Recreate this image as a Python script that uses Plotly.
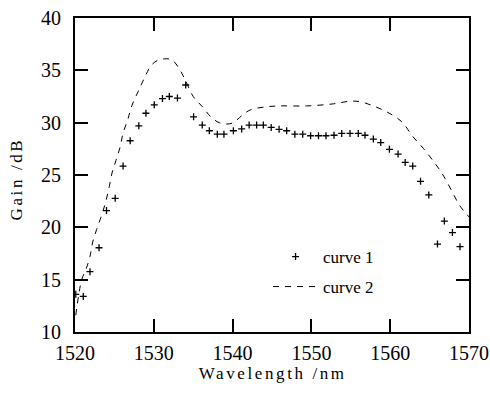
import plotly.graph_objects as go

# curve 1 (markers)
c1_x = [1520.1, 1521.05, 1521.9, 1523.05, 1524.0, 1525.1, 1526.1, 1527.0, 1528.1, 1529.0,
        1530.06, 1531.1, 1531.97, 1533.0, 1534.05, 1535.05, 1536.15, 1537.05, 1538.06, 1538.9,
        1540.1, 1541.15, 1542.1, 1543.05, 1543.9, 1544.9, 1545.9, 1546.86, 1547.9, 1548.9,
        1549.9, 1550.9, 1551.85, 1552.87, 1553.85, 1554.9, 1555.95, 1556.8, 1557.86, 1558.8,
        1559.9, 1561.0, 1561.9, 1562.86, 1563.85, 1564.9, 1566.0, 1566.87, 1567.9, 1568.86]
c1_y = [13.6, 13.4, 15.76, 18.05, 21.6, 22.77, 25.85, 28.27, 29.7, 30.9,
        31.7, 32.3, 32.5, 32.35, 33.6, 30.56, 29.77, 29.23, 28.9, 28.9,
        29.23, 29.4, 29.77, 29.77, 29.77, 29.55, 29.36, 29.23, 28.9, 28.9,
        28.75, 28.75, 28.75, 28.8, 28.97, 28.97, 28.97, 28.8, 28.43, 28.1,
        27.45, 27.0, 26.2, 25.85, 24.4, 23.1, 18.4, 20.6, 19.5, 18.15]

# curve 2 (dashed line)
c2_x = [1520.1, 1520.85, 1521.4, 1521.9, 1522.25, 1522.75, 1523.4, 1523.9, 1524.35, 1524.7,
        1525.2, 1525.7, 1526.1, 1526.7, 1527.2, 1528.0, 1528.7, 1529.7, 1530.5, 1531.4,
        1532.3, 1533.1, 1534.0, 1535.0, 1536.2, 1537.3, 1538.3, 1539.25, 1540.1, 1540.9,
        1542.2, 1544.1, 1546.0, 1549.4, 1552.8, 1554.9, 1556.2, 1557.85, 1559.55, 1561.45,
        1562.9, 1564.2, 1565.7, 1566.7, 1567.8, 1568.8, 1570.0]
c2_y = [11.6, 15.0, 16.0, 17.2, 18.6, 19.8, 21.2, 22.45, 23.9, 25.2,
        26.4, 27.6, 29.0, 30.3, 31.6, 32.95, 34.1, 35.5, 35.95, 36.1,
        36.0, 35.3, 34.07, 32.5, 31.5, 30.5, 30.0, 29.87, 30.0, 30.5,
        31.2, 31.5, 31.6, 31.6, 31.8, 32.05, 32.0, 31.6, 31.04, 30.1,
        28.65, 27.55, 26.1, 25.0, 23.5, 22.1, 21.0]

x_ticks = [1520, 1530, 1540, 1550, 1560, 1570]
y_ticks = [10, 15, 20, 25, 30, 35, 40]

x_title = "Wavelength /nm"
y_title = "Gain /dB"

FONT = "Liberation Serif"

fig = go.Figure()
fig.add_trace(go.Scatter(
    x=c1_x, y=c1_y, mode="markers", name="curve 1", legend="legend",
    marker=dict(symbol="cross-thin", size=5, color="black",
                line=dict(color="black", width=1.3)),
))
fig.add_trace(go.Scatter(
    x=c2_x, y=c2_y, mode="lines", name="curve 2", legend="legend2",
    line=dict(color="black", width=1, dash="6px,6px", shape="spline"),
))

axis_common = dict(
    showline=True, linecolor="black", linewidth=2, mirror="ticks",
    ticks="inside", ticklen=13, tickwidth=2, tickcolor="black",
    showgrid=False, zeroline=False, automargin=False,
    tickfont=dict(family=FONT, size=20, color="black"),
)

legend_common = dict(
    xanchor="left", yanchor="middle", bgcolor="rgba(0,0,0,0)",
    font=dict(family=FONT, size=17, color="black"), itemwidth=45,
    borderwidth=0,
)

fig.update_layout(
    width=490, height=394,
    margin=dict(l=75, r=21, t=18, b=62),
    paper_bgcolor="white", plot_bgcolor="white",
    font=dict(family=FONT, color="black"),
    xaxis=dict(range=[1520, 1570], tickvals=x_ticks, ticklabelstandoff=2, **axis_common),
    yaxis=dict(range=[10, 40], tickvals=y_ticks, ticklabelstandoff=8, **axis_common),
    legend=dict(x=0.49, y=(332 - 257) / 314, **legend_common),
    legend2=dict(x=0.49, y=(332 - 287) / 314, **legend_common),
    showlegend=True,
    annotations=[
        dict(text=x_title, xref="paper", yref="paper", x=0.5, y=(332 - 373) / 314,
             xanchor="center", yanchor="middle", showarrow=False,
             font=dict(family=FONT, size=17, color="black")),
        dict(text=y_title, xref="paper", yref="paper", x=(16 - 75) / 394, y=(332 - 179) / 314,
             xanchor="center", yanchor="middle", showarrow=False, textangle=-90,
             font=dict(family=FONT, size=17, color="black")),
    ],
)

post = """
function sp(){
  document.querySelectorAll('.annotation-text').forEach(function(e){e.style.letterSpacing='2.6px';});
}
sp(); setTimeout(sp, 50);
"""

fig.write_html("out.html", post_script=post)
